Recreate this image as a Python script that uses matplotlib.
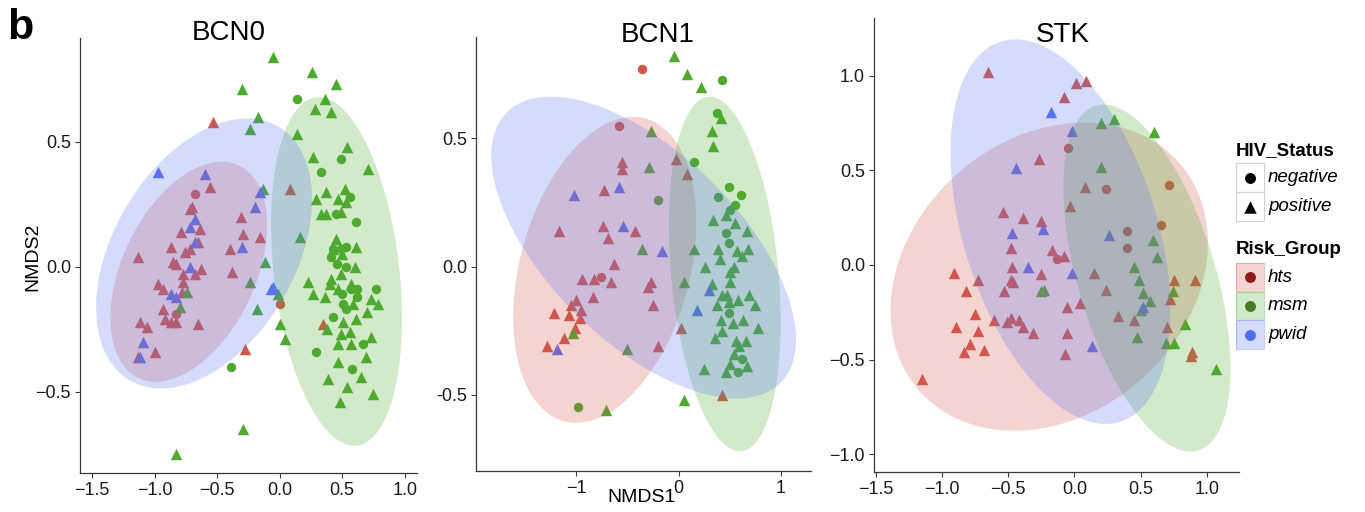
import numpy as np
import matplotlib
matplotlib.use("Agg")
import matplotlib.pyplot as plt
from matplotlib.patches import Rectangle

plt.rcParams["font.family"] = ["Liberation Sans", "DejaVu Sans"]

# -----------------------------
# Data
# -----------------------------
groups = ["hts", "msm", "pwid"]
group_colors = {"hts": "#D2574B", "msm": "#4DAA2E", "pwid": "#5873F2"}
legend_dot_colors = {"hts": "#8C1C1C", "msm": "#4B7A27", "pwid": "#4F6FEA"}
status_labels = ["negative", "positive"]

# BCN0
bcn0_hts_pos = [(-0.53, 0.58), (-0.56, 0.32), (-0.70, 0.24), (-0.72, 0.23), (-0.31, 0.20), (-0.64, 0.15),
                (-0.79, 0.14), (-0.29, 0.13), (-0.65, 0.10), (-0.16, 0.12), (-0.87, 0.08), (-0.40, 0.07),
                (-0.76, 0.06), (-0.72, 0.07), (-1.13, 0.04), (-0.85, 0.02), (-0.83, 0.01), (-0.63, -0.01),
                (-0.68, -0.03), (-0.38, -0.02), (-0.77, -0.03), (-0.77, -0.06), (-0.97, -0.07), (-0.93, -0.09),
                (-0.78, -0.10), (-0.93, -0.17), (-0.92, -0.21), (-1.12, -0.22), (-1.06, -0.24), (-0.87, -0.22),
                (-0.83, -0.22), (-0.65, -0.23), (-1.00, -0.34), (-1.13, -0.36), (-0.28, -0.33), (0.08, 0.31),
                (0.35, -0.23)]
bcn0_hts_neg = [(-0.68, 0.29), (-0.83, -0.19), (0.00, -0.15)]
bcn0_pwid_pos = [(-0.97, 0.38), (-0.60, 0.37), (-0.16, 0.30), (-0.20, 0.24), (-0.68, 0.19), (-0.72, 0.16),
                 (-0.68, 0.10), (-0.30, 0.08), (-0.72, 0.00), (-0.05, -0.08), (-0.07, -0.09), (-0.87, -0.11),
                 (-0.83, -0.12), (-1.09, -0.30), (-1.12, -0.36)]
bcn0_pwid_neg = []
bcn0_msm_pos = [(-0.05, 0.84), (-0.30, 0.71), (-0.17, 0.60), (-0.24, 0.55), (-0.13, 0.31), (-0.12, 0.02),
                (-0.24, -0.06), (-0.74, -0.10), (-0.80, -0.16), (-0.01, -0.11), (-0.18, -0.17), (0.00, -0.23),
                (0.04, -0.29), (-0.29, -0.65), (-0.83, -0.75), (0.26, 0.78), (0.45, 0.73), (0.36, 0.67),
                (0.28, 0.63), (0.41, 0.62), (0.14, 0.53), (0.54, 0.48), (0.27, 0.44), (0.71, 0.39),
                (0.37, 0.30), (0.52, 0.31), (0.29, 0.27), (0.47, 0.27), (0.53, 0.26), (0.33, 0.21),
                (0.37, 0.21), (0.49, 0.22), (0.16, 0.12), (0.45, 0.11), (0.61, 0.08), (0.43, 0.07),
                (0.50, 0.05), (0.60, 0.00), (0.49, -0.03), (0.41, -0.05), (0.23, -0.06), (0.40, -0.07),
                (0.57, -0.07), (0.47, -0.09), (0.27, -0.11), (0.36, -0.12), (0.73, -0.13), (0.79, -0.15),
                (0.59, -0.15), (0.70, -0.18), (0.61, -0.21), (0.51, -0.22), (0.38, -0.25), (0.56, -0.26),
                (0.49, -0.27), (0.73, -0.28), (0.47, -0.31), (0.57, -0.31), (0.69, -0.36), (0.47, -0.38),
                (0.65, -0.44), (0.39, -0.45), (0.54, -0.48), (0.75, -0.51), (0.48, -0.54)]
bcn0_msm_neg = [(-0.39, -0.40), (0.14, 0.67), (0.49, 0.43), (0.33, 0.38), (0.56, 0.28), (0.45, 0.21),
                (0.61, 0.18), (0.43, 0.07), (0.49, 0.07), (0.53, 0.08), (0.41, 0.04), (0.46, 0.01),
                (0.53, 0.00), (0.62, -0.09), (0.57, -0.09), (0.77, -0.09), (0.50, -0.11), (0.62, -0.12),
                (0.51, -0.15), (0.53, -0.17), (0.43, -0.20), (0.67, -0.31), (0.29, -0.34), (0.58, -0.41)]

# BCN1
bcn1_hts_pos = [(-0.55, 0.41), (-0.55, 0.38), (-0.03, 0.42), (0.08, 0.36), (-0.73, 0.30), (-1.17, 0.14),
                (-0.74, 0.16), (-0.69, 0.11), (-0.43, 0.14), (-0.63, 0.01), (-0.94, -0.05), (-0.83, -0.05),
                (-0.66, -0.06), (-0.27, -0.06), (-0.30, -0.08), (-0.84, -0.12), (-1.00, -0.13), (-1.05, -0.15),
                (-0.95, -0.17), (-0.25, -0.15), (-1.22, -0.18), (-1.07, -0.19), (-0.96, -0.20), (-1.01, -0.24),
                (0.02, -0.24), (-1.12, -0.28), (-1.28, -0.31), (-0.20, -0.31), (0.42, -0.50)]
bcn1_hts_neg = [(-0.36, 0.77), (-0.58, 0.55), (-0.76, -0.04)]
bcn1_pwid_pos = [(-1.02, 0.28), (-0.58, 0.31), (-0.54, 0.16), (-0.16, 0.06), (-1.19, -0.32), (0.30, -0.09),
                 (0.18, -0.17)]
bcn1_pwid_neg = []
bcn1_msm_pos = [(-0.04, 0.82), (0.08, 0.75), (-0.27, 0.53), (-0.29, 0.39), (-0.36, 0.07), (0.05, -0.06),
                (-1.03, -0.26), (-0.50, -0.32), (-0.71, -0.56), (0.05, -0.52), (0.22, 0.70), (0.41, 0.58),
                (0.33, 0.53), (0.34, 0.47), (0.34, 0.18), (0.46, 0.20), (0.55, 0.17), (0.67, 0.14),
                (0.15, 0.07), (0.38, 0.07), (0.57, 0.06), (0.68, 0.07), (0.62, 0.04), (0.40, 0.03),
                (0.26, 0.00), (0.54, 0.00), (0.50, -0.02), (0.50, -0.06), (0.33, -0.07), (0.42, -0.11),
                (0.47, -0.11), (0.69, -0.11), (0.37, -0.15), (0.49, -0.14), (0.58, -0.13), (0.75, -0.15),
                (0.41, -0.21), (0.53, -0.22), (0.63, -0.21), (0.77, -0.24), (0.42, -0.25), (0.36, -0.28),
                (0.56, -0.29), (0.66, -0.29), (0.59, -0.31), (0.54, -0.34), (0.50, -0.38), (0.67, -0.39),
                (0.25, -0.40), (0.46, -0.41)]
bcn1_msm_neg = [(-0.20, 0.26), (-0.98, -0.55), (0.42, 0.73), (0.37, 0.60), (0.15, 0.41), (0.49, 0.31),
                (0.61, 0.28), (0.38, 0.27), (0.55, 0.24), (0.50, 0.22), (0.46, 0.13), (0.49, 0.09),
                (0.49, -0.18), (0.62, -0.36), (0.58, -0.41)]

# STK
stk_hts_pos = [(-0.65, 1.02), (0.01, 0.96), (0.09, 0.97), (-0.08, 0.89), (-0.27, 0.56), (0.08, 0.41),
               (-0.03, 0.31), (-0.54, 0.28), (-0.39, 0.25), (-0.25, 0.23), (-0.48, 0.09), (-0.17, 0.08),
               (-0.08, 0.05), (-0.47, -0.01), (-0.25, -0.05), (-0.91, -0.04), (-0.73, -0.08), (-0.48, -0.08),
               (-0.46, -0.09), (-0.82, -0.14), (-0.53, -0.14), (0.04, -0.20), (-0.06, -0.22), (-0.75, -0.26),
               (-0.61, -0.29), (-0.51, -0.30), (-0.48, -0.28), (-0.42, -0.29), (-0.89, -0.33), (-0.39, -0.33),
               (-0.73, -0.35), (-0.31, -0.36), (-0.06, -0.36), (-0.79, -0.42), (-0.83, -0.46), (-0.68, -0.45),
               (-0.07, -0.47), (-1.15, -0.60), (0.15, -0.04), (0.24, -0.13), (0.33, -0.27), (0.45, -0.29),
               (0.75, -0.08), (0.91, -0.08), (0.72, -0.18), (0.70, -0.33), (0.89, -0.46), (0.88, -0.48)]
stk_hts_neg = [(-0.05, 0.62), (-0.13, 0.03), (0.24, 0.40), (0.71, 0.42), (0.65, 0.21), (0.40, 0.18),
               (0.40, 0.09)]
stk_pwid_pos = [(-0.18, 0.81), (-0.02, 0.71), (-0.44, 0.51), (-0.47, 0.17), (-0.24, 0.19), (-0.35, -0.01),
                (-0.02, -0.04), (0.26, 0.16), (0.52, -0.22), (0.13, -0.43)]
stk_pwid_neg = []
stk_msm_pos = [(-0.23, -0.13), (-0.25, -0.14), (0.20, 0.75), (0.30, 0.77), (0.60, 0.70), (0.20, 0.52),
               (0.59, 0.13), (0.62, 0.04), (0.45, -0.01), (0.49, -0.08), (0.74, -0.14), (0.52, -0.15),
               (0.57, -0.19), (0.50, -0.24), (0.83, -0.31), (0.47, -0.38), (0.69, -0.41), (0.75, -0.41),
               (1.07, -0.55)]
stk_msm_neg = []

# 95% ellipses: centre x, centre y, half-width x, half-height y, correlation
bcn0_ellipses = {"hts": (-0.728, -0.02, 0.627, 0.44, 0.42),
                 "msm": (0.455, -0.019, 0.524, 0.697, -0.27),
                 "pwid": (-0.605, 0.053, 0.864, 0.54, 0.40)}
bcn1_ellipses = {"hts": (-0.721, -0.013, 0.893, 0.597, 0.31),
                 "msm": (0.451, -0.029, 0.545, 0.692, -0.27),
                 "pwid": (-0.341, 0.074, 1.487, 0.589, -0.61)}
stk_ellipses = {"hts": (-0.191, -0.062, 1.197, 0.814, 0.22),
                "msm": (0.547, -0.069, 0.630, 0.917, -0.52),
                "pwid": (-0.106, 0.176, 0.829, 1.016, -0.41)}

bcn0_xticks = [-1.5, -1.0, -0.5, 0.0, 0.5, 1.0]
bcn0_xlabels = ["\u22121.5", "\u22121.0", "\u22120.5", "0.0", "0.5", "1.0"]
bcn0_yticks = [-0.5, 0.0, 0.5]
bcn0_ylabels = ["\u22120.5", "0.0", "0.5"]
bcn1_xticks = [-1, 0, 1]
bcn1_xlabels = ["\u22121", "0", "1"]
bcn1_yticks = [-0.5, 0.0, 0.5]
bcn1_ylabels = ["-0.5", "0.0", "0.5"]
stk_xticks = [-1.5, -1.0, -0.5, 0.0, 0.5, 1.0]
stk_xlabels = ["\u22121.5", "\u22121.0", "\u22120.5", "0.0", "0.5", "1.0"]
stk_yticks = [-1.0, -0.5, 0.0, 0.5, 1.0]
stk_ylabels = ["\u22121.0", "\u22120.5", "0.0", "0.5", "1.0"]

# -----------------------------
# Figure
# -----------------------------
W, H = 1365, 512
fig = plt.figure(figsize=(W / 100, H / 100), dpi=100)


def px_axes(left, top, right, bottom):
    return fig.add_axes([left / W, 1 - bottom / H, (right - left) / W, (bottom - top) / H])


def ellipse_xy(cx, cy, sx, sy, r, n=200):
    t = np.linspace(0, 2 * np.pi, n)
    x = cx + sx * np.cos(t)
    y = cy + sy * (r * np.cos(t) + np.sqrt(1 - r ** 2) * np.sin(t))
    return x, y


def draw_panel(ax, pts, ellipses, xlim, ylim, xticks, xlabels, yticks, ylabels):
    for g in groups:
        pos, neg = pts[g]
        if pos:
            ax.scatter([p[0] for p in pos], [p[1] for p in pos], marker="^", s=68,
                       color=group_colors[g], linewidths=0, zorder=2)
        if neg:
            ax.scatter([p[0] for p in neg], [p[1] for p in neg], marker="o", s=46,
                       color=group_colors[g], linewidths=0, zorder=2)
    for g in groups:
        ex, ey = ellipse_xy(*ellipses[g])
        ax.fill(ex, ey, color=group_colors[g], alpha=0.25, lw=0, zorder=3)
    ax.set_xlim(*xlim)
    ax.set_ylim(*ylim)
    ax.set_xticks(xticks)
    ax.set_xticklabels(xlabels)
    ax.set_yticks(yticks)
    ax.set_yticklabels(ylabels)
    for side in ["top", "right"]:
        ax.spines[side].set_visible(False)
    for side in ["left", "bottom"]:
        ax.spines[side].set_color("#3a3a3a")
        ax.spines[side].set_linewidth(0.9)
    ax.tick_params(direction="out", length=3.5, width=0.8, color="#3a3a3a",
                   labelsize=13, labelcolor="#1a1a1a", pad=3)
    ax.patch.set_alpha(0)


ax1 = px_axes(80, 38, 417, 473)
draw_panel(ax1, {"hts": (bcn0_hts_pos, bcn0_hts_neg), "msm": (bcn0_msm_pos, bcn0_msm_neg),
                 "pwid": (bcn0_pwid_pos, bcn0_pwid_neg)},
           bcn0_ellipses, (-1.598, 1.099), (-0.825, 0.915),
           bcn0_xticks, bcn0_xlabels, bcn0_yticks, bcn0_ylabels)

ax2 = px_axes(476, 37, 811, 471)
draw_panel(ax2, {"hts": (bcn1_hts_pos, bcn1_hts_neg), "msm": (bcn1_msm_pos, bcn1_msm_neg),
                 "pwid": (bcn1_pwid_pos, bcn1_pwid_neg)},
           bcn1_ellipses, (-1.977, 1.292), (-0.798, 0.896),
           bcn1_xticks, bcn1_xlabels, bcn1_yticks, bcn1_ylabels)

ax3 = px_axes(874, 18, 1239, 472)
draw_panel(ax3, {"hts": (stk_hts_pos, stk_hts_neg), "msm": (stk_msm_pos, stk_msm_neg),
                 "pwid": (stk_pwid_pos, stk_pwid_neg)},
           stk_ellipses, (-1.512, 1.241), (-1.094, 1.305),
           stk_xticks, stk_xlabels, stk_yticks, stk_ylabels)

# Titles and labels
fig.text(229 / W, 1 - 33 / H, "BCN0", ha="center", va="center", fontsize=20)
fig.text(658 / W, 1 - 35 / H, "BCN1", ha="center", va="center", fontsize=20)
fig.text(1063 / W, 1 - 35 / H, "STK", ha="center", va="center", fontsize=20)
fig.text(7 / W, 1 - 8 / H, "b", ha="left", va="top", fontsize=31, fontweight="bold")
fig.text(33 / W, 1 - 257 / H, "NMDS2", ha="center", va="center", rotation=90, fontsize=14)
fig.text(642 / W, 1 - 498 / H, "NMDS1", ha="center", va="center", fontsize=14)

# -----------------------------
# Legend (drawn by hand, ggplot style)
# -----------------------------
lg = px_axes(1225, 130, 1365, 360)
lg.set_xlim(1225, 1365)
lg.set_ylim(360, 130)
lg.axis("off")

lg.text(1236, 151, "HIV_Status", fontsize=13.5, fontweight="bold", va="center", ha="left")
status_markers = ["o", "^"]
for i, lab in enumerate(status_labels):
    top = 163 + i * 29
    lg.add_patch(Rectangle((1236, top), 28, 29, facecolor="white", edgecolor="#d0d0d0", lw=0.8))
    lg.scatter([1250], [top + 14.5], marker=status_markers[i], s=80 if i else 62, color="black", lw=0)
    lg.text(1268, top + 14.5, lab, fontsize=13.5, fontstyle="italic", va="center", ha="left")

lg.text(1236, 250, "Risk_Group", fontsize=13.5, fontweight="bold", va="center", ha="left")
for i, g in enumerate(groups):
    top = 263 + i * 28.7
    lg.add_patch(Rectangle((1236, top), 28, 28.7, facecolor="white", edgecolor="none"))
    lg.add_patch(Rectangle((1236, top), 28, 28.7, facecolor=group_colors[g], alpha=0.25,
                           edgecolor="none"))
    lg.add_patch(Rectangle((1236, top), 28, 28.7, facecolor="none",
                           edgecolor=group_colors[g], alpha=0.35, lw=0.8))
    lg.scatter([1250], [top + 14.3], marker="o", s=62, color=legend_dot_colors[g], lw=0)
    lg.text(1268, top + 14.3, g, fontsize=13.5, fontstyle="italic", va="center", ha="left")

plt.savefig("out.png", dpi=100)
print("Saved: out.png")
